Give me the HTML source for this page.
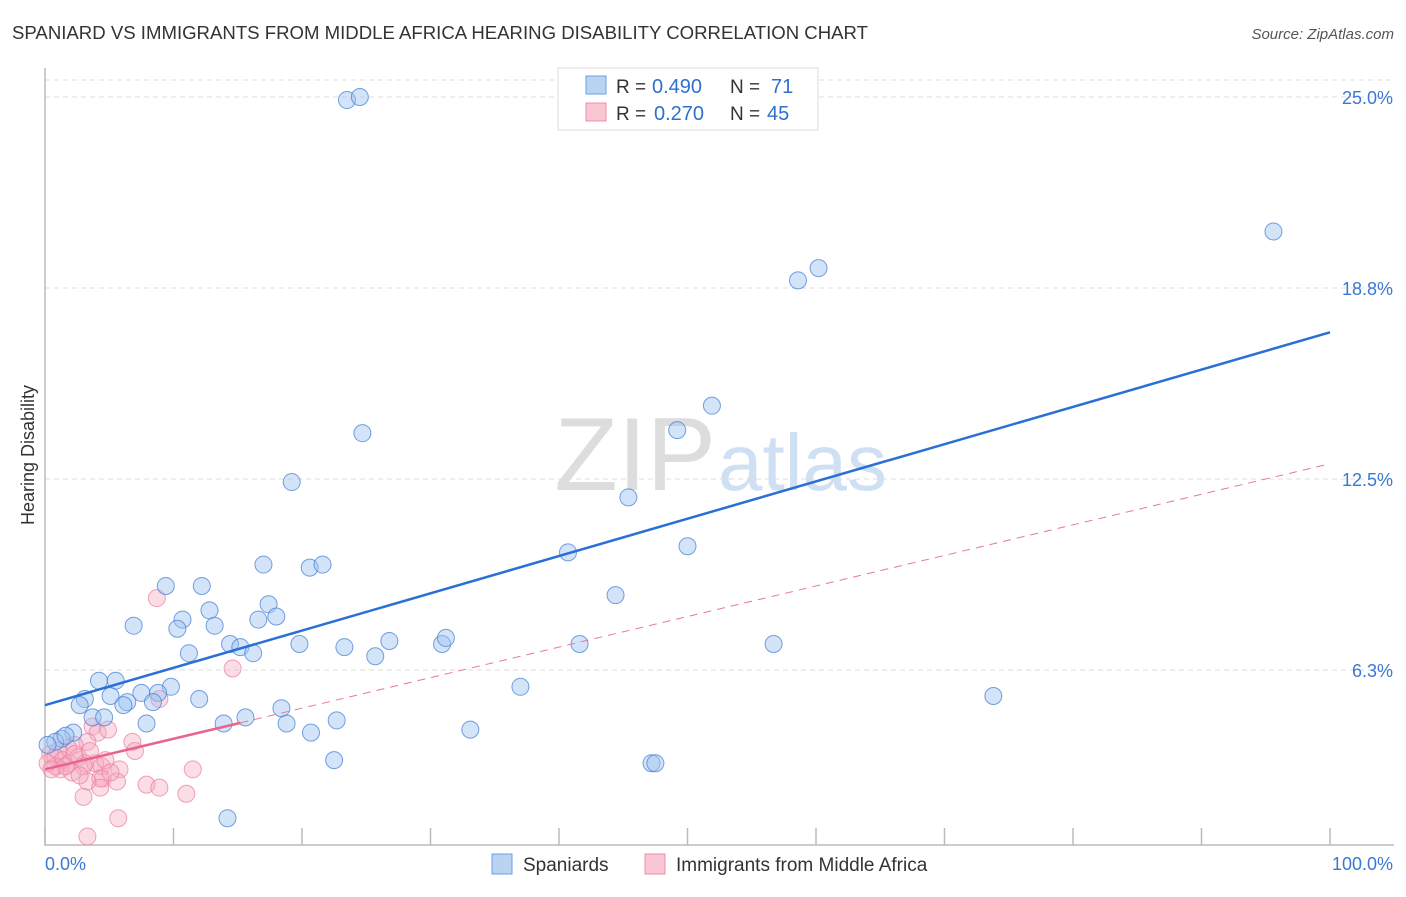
<!DOCTYPE html>
<html><head><meta charset="utf-8"><style>
body{margin:0;background:#fff;font-family:"Liberation Sans",sans-serif}
svg text{font-family:"Liberation Sans",sans-serif}
</style></head><body>
<svg id="c" width="1406" height="892">
<text x="12" y="39" font-size="18.6" fill="#333" textLength="856">SPANIARD VS IMMIGRANTS FROM MIDDLE AFRICA HEARING DISABILITY CORRELATION CHART</text>
<text x="1394" y="39" font-size="15" fill="#555" font-style="italic" text-anchor="end">Source: ZipAtlas.com</text>
<text x="716" y="490" font-size="104" fill="#ddd" text-anchor="end" font-family="Liberation Serif">ZIP</text>
<text x="718" y="490" font-size="80" fill="#cfe0f4">atlas</text>
<text transform="translate(34,455) rotate(-90)" font-size="18" fill="#333" text-anchor="middle">Hearing Disability</text>
<g id="grid"></g><g id="pts"></g><g id="lines"></g>
<g>
<rect x="558" y="68" width="260" height="62" fill="#fff" stroke="#ddd"/>
<rect x="586" y="76" width="20" height="18" fill="#b9d3f3" stroke="#6b9fe0"/>
<rect x="586" y="103" width="20" height="18" fill="#f9c6d4" stroke="#ec8fab"/>
<text x="616" y="93" font-size="19" fill="#333">R =</text>
<text x="652" y="93" font-size="20" fill="#2f6fd0">0.490</text>
<text x="730" y="93" font-size="19" fill="#333">N =</text>
<text x="771" y="93" font-size="20" fill="#2f6fd0">71</text>
<text x="616" y="120" font-size="19" fill="#333">R =</text>
<text x="654" y="120" font-size="20" fill="#2f6fd0">0.270</text>
<text x="730" y="120" font-size="19" fill="#333">N =</text>
<text x="767" y="120" font-size="20" fill="#2f6fd0">45</text>
</g>
<g>
<rect x="492" y="854" width="20" height="20" fill="#b9d3f3" stroke="#6b9fe0"/>
<text x="523" y="871" font-size="19" fill="#333">Spaniards</text>
<rect x="645" y="854" width="20" height="20" fill="#f9c6d4" stroke="#ec8fab"/>
<text x="676" y="871" font-size="19" fill="#333">Immigrants from Middle Africa</text>
</g>
</svg>
<script>
const yTicks=[25,18.75,12.5,6.25];
const yTickLabels=["25.0%","18.8%","12.5%","6.3%"];
const xTicks=[0,10,20,30,40,50,60,70,80,90,100];
const blueX=[23.5,24.5,95.6,58.6,60.2,51.9,49.2,24.7,19.2,45.4,40.7,50.0,17.0,20.6,21.6,9.4,12.2,44.4,17.4,12.8,18.0,10.7,6.9,10.3,13.2,16.6,14.4,15.2,19.8,23.3,26.8,30.9,31.2,41.6,56.7,11.2,16.2,25.7,4.2,5.5,9.8,8.8,7.5,5.1,3.1,2.7,6.4,6.1,8.4,12.0,37.0,73.8,3.7,4.6,15.6,18.4,7.9,13.9,18.8,22.7,33.1,2.2,20.7,1.3,0.8,0.2,1.6,22.5,47.2,47.5,14.2];
const blueY=[24.9,25.0,20.6,19.0,19.4,14.9,14.1,14.0,12.4,11.9,10.1,10.3,9.7,9.6,9.7,9.0,9.0,8.7,8.4,8.2,8.0,7.9,7.7,7.6,7.7,7.9,7.1,7.0,7.1,7.0,7.2,7.1,7.3,7.1,7.1,6.8,6.8,6.7,5.9,5.9,5.7,5.5,5.5,5.4,5.3,5.1,5.2,5.1,5.2,5.3,5.7,5.4,4.7,4.7,4.7,5.0,4.5,4.5,4.5,4.6,4.3,4.2,4.2,4.0,3.9,3.8,4.1,3.3,3.2,3.2,1.4];
const pinkX=[8.7,14.6,8.9,3.7,4.1,4.9,3.3,6.8,2.3,1.8,1.0,0.4,0.8,1.4,1.9,2.6,3.1,3.9,4.4,1.2,2.1,3.0,0.8,1.6,11.5,4.5,5.8,4.3,3.3,7.9,8.9,5.6,4.3,11.0,3.0,5.7,3.3,0.2,0.5,2.3,3.5,4.7,5.1,7.0,2.7];
const pinkY=[8.6,6.3,5.3,4.4,4.2,4.3,3.9,3.9,3.8,3.7,3.6,3.5,3.4,3.3,3.2,3.4,3.2,3.2,3.1,3.0,2.9,3.1,3.1,3.1,3.0,2.7,3.0,2.7,2.6,2.5,2.4,2.6,2.4,2.2,2.1,1.4,0.8,3.2,3.0,3.5,3.6,3.3,2.9,3.6,2.8];
const blueLine=[5.1,17.3];
const pinkLine=[3.0,13.0];
const pinkSolidEnd=15.2;
const NS="http://www.w3.org/2000/svg";
const sx=v=>45+v*12.85, sy=v=>861-v*30.56;
function mk(t,a,p){const e=document.createElementNS(NS,t);for(const k in a)e.setAttribute(k,a[k]);p.appendChild(e);return e;}
const gridG=document.getElementById('grid');
const topLine=mk('line',{x1:45,x2:1394,y1:80,y2:80,stroke:'#ddd','stroke-dasharray':'5,4'},gridG);


yTicks.forEach((t,i)=>{
 const l=mk('line',{x1:45,x2:1394,y1:sy(t),y2:sy(t),stroke:'#ddd','stroke-dasharray':'5,4'},gridG);
 
 
 const tx=mk('text',{x:1393,y:sy(t)+7,'font-size':18,fill:'#3a78d4','text-anchor':'end'},gridG);
 tx.textContent=yTickLabels[i];
 
 
});
const axesPath=mk('path',{d:'M45 68V845H1394',fill:'none',stroke:'#bbb','stroke-width':1.5},gridG);


xTicks.forEach(t=>{
 const l=mk('line',{x1:sx(t),x2:sx(t),y1:828,y2:845,stroke:'#bbb','stroke-width':1.5},gridG);
 
 
});
const xl=mk('text',{x:45,y:870,'font-size':18,fill:'#3a78d4'},gridG);xl.textContent='0.0%';


const xr=mk('text',{x:1393,y:870,'font-size':18,fill:'#3a78d4','text-anchor':'end'},gridG);xr.textContent='100.0%';


const ptsG=document.getElementById('pts');
pinkX.forEach((x,i)=>{
 const c=mk('circle',{cx:sx(x),cy:sy(pinkY[i]),r:8.5,fill:'rgba(246,170,192,0.4)',stroke:'rgba(236,130,160,0.75)','stroke-width':1},ptsG);
 
 
});
blueX.forEach((x,i)=>{
 const c=mk('circle',{cx:sx(x),cy:sy(blueY[i]),r:8.5,fill:'rgba(160,196,240,0.45)',stroke:'rgba(70,130,215,0.75)','stroke-width':1},ptsG);
 
 
});
const linesG=document.getElementById('lines');
const bl=mk('line',{x1:sx(0),y1:sy(blueLine[0]),x2:sx(100),y2:sy(blueLine[1]),stroke:'#2a6fd6','stroke-width':2.5},linesG);


const pv=x=>pinkLine[0]+(pinkLine[1]-pinkLine[0])*x/100;
const pd=mk('line',{x1:sx(pinkSolidEnd),y1:sy(pv(pinkSolidEnd)),x2:sx(100),y2:sy(pinkLine[1]),stroke:'#e8789a','stroke-width':1,'stroke-dasharray':'8,6'},linesG);


const ps=mk('line',{x1:sx(0),y1:sy(pinkLine[0]),x2:sx(pinkSolidEnd),y2:sy(pv(pinkSolidEnd)),stroke:'#e8648c','stroke-width':2.5},linesG);


</script>
</body></html>
